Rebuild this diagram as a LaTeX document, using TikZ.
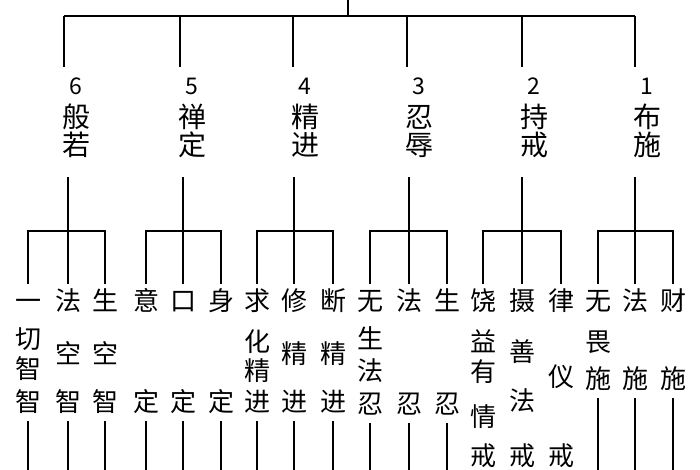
\documentclass[tikz,border=0pt]{standalone}
\usepackage{fontspec}
\newfontfamily\cjk{Noto Sans CJK SC}
\newcommand\leafcol[3]{%
  \foreach \c/\y [count=\k] in {#3} {\node[leaf] (#1-\k) at (#2,\y) {\c};}}
\begin{document}
\begin{tikzpicture}[x=1pt, y=-1pt, line width=1.6pt,
    num/.style={font=\cjk\fontsize{23pt}{23pt}\selectfont, text height=16pt, text depth=0pt, inner xsep=0pt, inner ysep=11pt},
    big/.style={font=\cjk\fontsize{28pt}{28pt}\selectfont, text height=22pt, text depth=3pt, inner xsep=0pt, inner ysep=18pt},
    leaf/.style={font=\cjk\fontsize{26pt}{26pt}\selectfont, text height=20pt, text depth=3pt, inner xsep=0pt, inner ysep=6pt}]
    \useasboundingbox (0,0) rectangle (700,470);
    \coordinate (root) at (348,0);
    \coordinate (edge) at (0,470);

    % Draw the six paramitas under the top bar
    \foreach \g/\bx/\ca/\cb in {6/64/般/若, 5/180/禅/定, 4/293/精/进, 3/407/忍/辱, 2/522/持/戒, 1/635/布/施} {
        \coordinate (t\g) at (\bx,16);
        \node[num] (n\g) at (\bx+12,87) {\g};
        \node[big] (c\g) at (\bx+12,118) {\ca};
        \node[big] (d\g) at (\bx+12,146) {\cb};
        \draw (t\g) -- (t\g |- n\g.north);
    }
    \draw (t6) -- (t1);
    \draw (root) -- (root |- t6);

    % Draw the leaf columns (one node per character)
    \leafcol{l6a}{28}{一/302,切/340,智/370,智/403}
    \leafcol{l6b}{68}{法/302,空/355,智/403}
    \leafcol{l6c}{105}{生/302,空/355,智/403}
    \leafcol{l5a}{146}{意/302,定/403}
    \leafcol{l5b}{183}{口/302,定/403}
    \leafcol{l5c}{221}{身/302,定/403}
    \leafcol{l4a}{257}{求/302,化/343,精/372,进/403}
    \leafcol{l4b}{294}{修/302,精/355,进/403}
    \leafcol{l4c}{333}{断/302,精/355,进/403}
    \leafcol{l3a}{370}{无/302,生/340,法/372,忍/405}
    \leafcol{l3b}{409}{法/302,忍/405}
    \leafcol{l3c}{447}{生/302,忍/405}
    \leafcol{l2a}{483}{饶/302,益/343,有/373,情/418,戒/457}
    \leafcol{l2b}{522}{摄/302,善/353,法/402,戒/457}
    \leafcol{l2c}{561}{律/302,仪/378,戒/457}
    \leafcol{l1a}{598}{无/302,畏/343,施/380}
    \leafcol{l1b}{635}{法/302,施/380}
    \leafcol{l1c}{673}{财/302,施/380}

    % Draw brackets from each paramita to its three leaves
    \foreach \g in {6,5,4,3,2,1} {
        \coordinate (rung\g) at (0,231);
        \draw (d\g.south -| l\g b-1) -- (l\g b-1.north);
        \draw (l\g a-1.north) |- (rung\g -| l\g b-1) -| (l\g c-1.north);
    }

    % Draw lines running off the bottom edge
    \foreach \n in {l6a-4,l6b-3,l6c-3,l5a-2,l5b-2,l5c-2,l4a-4,l4b-3,l4c-3,l3a-4,l3b-2,l3c-2,l1a-3,l1b-2,l1c-2} {
        \draw (\n.south) -- (\n.south |- edge);
    }
\end{tikzpicture}
\end{document}
